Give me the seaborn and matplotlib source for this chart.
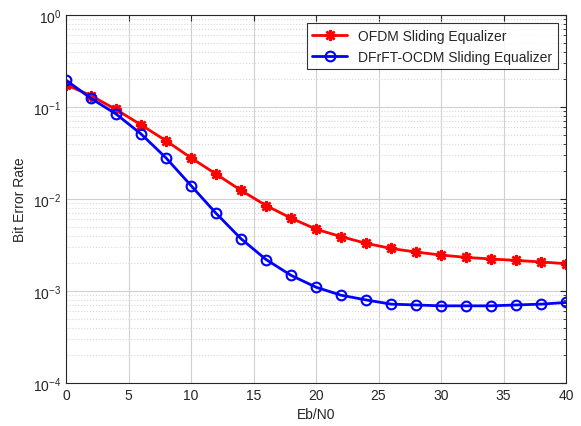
import numpy as np
import pandas as pd
import seaborn as sns
import matplotlib.pyplot as plt

ebn0 = list(range(0, 41, 2))
ber_ofdm = [0.175, 0.133, 0.094, 0.064, 0.043, 0.028, 0.0187, 0.0124, 0.0085, 0.0062,
            0.0047, 0.0039, 0.0033, 0.0029, 0.00265, 0.00246, 0.00232, 0.00223,
            0.00215, 0.00207, 0.00198]
ber_ocdm = [0.196, 0.124, 0.084, 0.051, 0.028, 0.014, 0.0070, 0.0037, 0.0022, 0.00148,
            0.0011, 0.00090, 0.00080, 0.00072, 0.000705, 0.00069, 0.00069, 0.00069,
            0.000705, 0.00072, 0.00075]
labels = ["OFDM Sliding Equalizer", "DFrFT-OCDM Sliding Equalizer"]

sns.set_style("white")
plt.rcParams["font.family"] = ["Liberation Sans", "DejaVu Sans"]
plt.rcParams["font.size"] = 10

fig = plt.figure(figsize=(5.81, 4.27), dpi=100)
ax = fig.add_axes([0.1136, 0.1007, 0.8606, 0.8618])

# matlab-like asterisk marker (8 spokes)
sns.lineplot(x=ebn0, y=ber_ofdm, color="#ff0000", marker=(8, 2, 0), markersize=8,
             markeredgewidth=1.8, markeredgecolor="#ff0000", linewidth=2,
             label=labels[0], ax=ax)
sns.lineplot(x=ebn0, y=ber_ocdm, color="#0000ff", marker="o", markersize=7,
             markeredgewidth=1.5, markeredgecolor="#0000ff", markerfacecolor="none",
             linewidth=2, label=labels[1], ax=ax)

ax.set_yscale("log")
ax.set_xlim(0, 40)
ax.set_ylim(1e-4, 1)
ax.set_xticks(range(0, 41, 5))
ax.set_xlabel("Eb/N0")
ax.set_ylabel("Bit Error Rate")

ax.grid(True, which="major", color="#d0d0d0", linewidth=0.8)
ax.grid(True, which="minor", axis="y", color="#d8d8d8", linestyle=":", linewidth=0.8)
ax.tick_params(which="both", direction="in", top=True, right=True, colors="#262626", labelsize=10)
ax.tick_params(which="major", length=4)
ax.tick_params(which="minor", length=2)
for sp in ax.spines.values():
    sp.set_color("#262626")
    sp.set_linewidth(0.8)

leg = ax.legend(loc="upper right", frameon=True, fancybox=False, edgecolor="black",
                fontsize=10, handlelength=2.5, borderaxespad=0.6)
leg.get_frame().set_linewidth(0.8)

fig.savefig("out.png", dpi=100)
